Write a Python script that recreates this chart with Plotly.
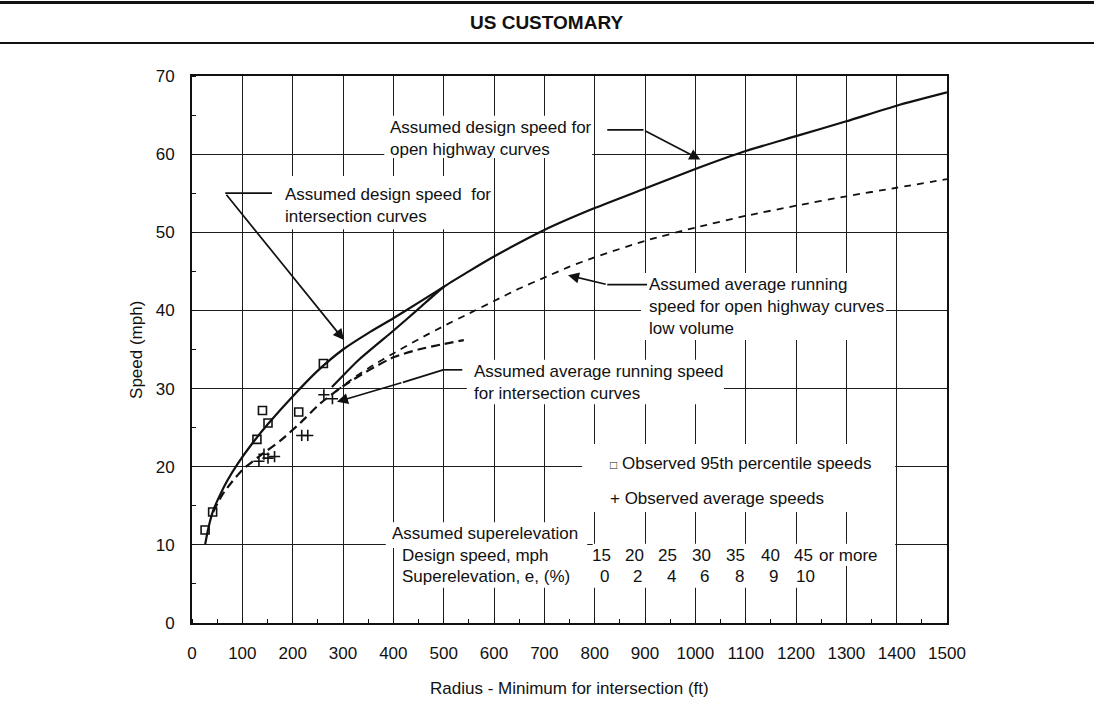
import plotly.graph_objects as go

# ---- curves (radius in ft, speed in mph) ----
int_design_r = [26, 32, 41, 55, 70, 90, 120, 150, 200, 250, 300, 350, 400, 450, 500]
int_design_v = [10.0, 12.0, 14.2, 16.3, 18.2, 20.3, 23.0, 25.4, 29.0, 32.3, 35.0, 37.1, 39.0, 41.0, 43.0]

open_design_r = [278, 330, 400, 450, 500, 550, 600, 700, 800, 900, 1000, 1100, 1200, 1300, 1400, 1500]
open_design_v = [30.2, 33.6, 37.4, 40.2, 43.0, 45.0, 46.9, 50.3, 53.1, 55.6, 58.1, 60.4, 62.3, 64.2, 66.2, 67.9]

int_avg_r = [42, 60, 80, 100, 135, 175, 215, 255, 300, 350, 400, 450, 500, 540]
int_avg_v = [14.2, 16.4, 18.1, 19.6, 21.4, 23.3, 25.6, 28.1, 30.3, 32.3, 34.0, 35.0, 35.7, 36.2]

open_avg_r = [285, 320, 360, 400, 450, 500, 550, 600, 650, 700, 750, 800, 900, 1000, 1100, 1200, 1300, 1400, 1500]
open_avg_v = [29.6, 31.3, 33.0, 34.5, 36.3, 38.0, 39.6, 41.2, 42.8, 44.2, 45.6, 46.8, 48.9, 50.6, 52.1, 53.4, 54.6, 55.7, 56.8]

# ---- observations ----
p95_r = [26, 41, 129, 140, 151, 212, 261]
p95_v = [11.9, 14.2, 23.5, 27.2, 25.6, 27.0, 33.2]

avg_r = [133, 143, 151, 164, 218, 230, 262, 279]
avg_v = [20.7, 21.6, 21.1, 21.3, 24.0, 24.0, 29.2, 28.7]

# ---- superelevation table ----
design_speeds = ["15", "20", "25", "30", "35", "40", "45"]
superelev = ["0", "2", "4", "6", "8", "9", "10"]
speed_cols = [814, 880, 945, 1013, 1079, 1149, 1214]
elev_cols = [820, 886, 953, 1019, 1087, 1155, 1218]

x_ticks = list(range(0, 1501, 100))
y_ticks = list(range(0, 71, 10))

FONT = "Liberation Sans, Arial, Helvetica, sans-serif"
INK = "#111111"

fig = go.Figure()

fig.add_trace(go.Scatter(x=int_design_r, y=int_design_v, mode="lines",
                         line=dict(color=INK, width=2.2, shape="spline", smoothing=0.6)))
fig.add_trace(go.Scatter(x=open_design_r, y=open_design_v, mode="lines",
                         line=dict(color=INK, width=2.2, shape="spline", smoothing=0.6)))
fig.add_trace(go.Scatter(x=int_avg_r, y=int_avg_v, mode="lines",
                         line=dict(color=INK, width=2.2, dash="9px,5px", shape="spline", smoothing=0.6)))
fig.add_trace(go.Scatter(x=open_avg_r, y=open_avg_v, mode="lines",
                         line=dict(color=INK, width=1.8, dash="7px,6px", shape="spline", smoothing=0.6)))
fig.add_trace(go.Scatter(x=p95_r, y=p95_v, mode="markers",
                         marker=dict(symbol="square-open", size=8, color=INK, line=dict(width=1.6))))
fig.add_trace(go.Scatter(x=avg_r, y=avg_v, mode="markers",
                         marker=dict(symbol="cross-thin-open", size=8, color=INK, line=dict(width=1.6, color=INK))))

shapes = []

# white panels behind the labels (hide grid lines, stay under the curves)
def panel(x0, x1, y0, y1):
    shapes.append(dict(type="rect", xref="x", yref="y", x0=x0, x1=x1, y0=y0, y1=y1,
                       fillcolor="white", line=dict(width=0), layer="between"))

panel(382, 795, 59.5, 64.9)
panel(168, 596, 50.4, 57.2)
panel(892, 1379, 36.2, 44.8)
panel(546, 1057, 28.0, 33.7)
panel(775, 1397, 14.2, 22.9)
panel(385, 785, 9.6, 12.9)
panel(402, 785, 7.3, 10.1)
panel(796, 1397, 7.3, 10.15)
panel(402, 1244, 4.5, 7.3)

# leader lines
def seg(x0, y0, x1, y1):
    shapes.append(dict(type="line", xref="x", yref="y", x0=x0, y0=y0, x1=x1, y1=y1,
                       line=dict(color=INK, width=1.7), layer="above"))

seg(825, 63.1, 897, 63.1)
seg(159, 55.0, 66, 55.0)
seg(904, 43.3, 825, 43.3)
seg(537, 32.4, 499, 32.4)
seg(499, 32.4, 419, 30.8)

# header rules
shapes.append(dict(type="line", xref="paper", yref="paper", x0=-0.26, x1=1.2, y0=1.1345, y1=1.1345,
                   line=dict(color=INK, width=3)))
shapes.append(dict(type="line", xref="paper", yref="paper", x0=-0.26, x1=1.2, y0=1.0603, y1=1.0603,
                   line=dict(color=INK, width=2)))

annotations = []

def arrow(x, y, ax, ay):
    annotations.append(dict(x=x, y=y, ax=ax, ay=ay, xref="x", yref="y", axref="x", ayref="y",
                            text="", showarrow=True, arrowhead=2, arrowsize=1.3,
                            arrowwidth=1.7, arrowcolor=INK))

arrow(1010, 59.3, 897, 63.1)
arrow(302, 36.2, 66, 55.0)
arrow(747, 44.5, 825, 43.3)
arrow(288, 28.3, 419, 30.8)

def label(x, y, text, size=17, xanchor="left", bold=False):
    annotations.append(dict(x=x, y=y, xref="x", yref="y", text=("<b>%s</b>" % text) if bold else text,
                            showarrow=False, xanchor=xanchor, yanchor="middle", align="left",
                            font=dict(family=FONT, size=size, color=INK)))

label(389, 62.0, "Assumed design speed for<br>open highway curves")
label(180, 53.4, "Assumed design speed  for<br>intersection curves")
label(904, 40.5, "Assumed average running<br>speed for open highway curves<br>low volume")
label(556, 30.8, "Assumed average running speed<br>for intersection curves")
label(826, 20.4, "<span style='font-size:12px'>□</span> Observed 95th percentile speeds")
label(826, 15.9, "+ Observed average speeds")
label(393, 11.5, "Assumed superelevation")
label(413, 8.7, "Design speed, mph")
label(413, 5.9, "Superelevation, e, (%)")
for xs, s in zip(speed_cols, design_speeds):
    label(xs, 8.7, s, xanchor="center")
for xs, s in zip(elev_cols, superelev):
    label(xs, 5.9, s, xanchor="center")
label(1241, 8.7, "or more")

# header and axis titles
annotations.append(dict(x=0.4698, y=1.0987, xref="paper", yref="paper", text="<b>US CUSTOMARY</b>",
                        showarrow=False, xanchor="center", yanchor="middle",
                        font=dict(family=FONT, size=19, color=INK)))
annotations.append(dict(x=0.5003, y=-0.119, xref="paper", yref="paper",
                        text="Radius - Minimum for intersection (ft)",
                        showarrow=False, xanchor="center", yanchor="middle",
                        font=dict(family=FONT, size=17, color=INK)))
annotations.append(dict(x=-0.0736, y=0.5, xref="paper", yref="paper", text="Speed (mph)",
                        textangle=-90, showarrow=False, xanchor="center", yanchor="middle",
                        font=dict(family=FONT, size=17, color=INK)))

fig.update_layout(
    width=1094, height=702,
    margin=dict(l=192, r=147, t=76, b=79),
    paper_bgcolor="white", plot_bgcolor="white",
    showlegend=False,
    shapes=shapes, annotations=annotations,
    font=dict(family=FONT, size=17, color=INK),
)
fig.update_xaxes(range=[0, 1500], tickvals=x_ticks, ticktext=[str(v) for v in x_ticks],
                 showgrid=True, gridcolor="#1c1c1c", gridwidth=1.4, zeroline=False,
                 showline=True, linecolor=INK, linewidth=2, mirror=True, ticks="",
                 ticklabelstandoff=14, tickfont=dict(size=17),
                 minor=dict(dtick=50, ticks="inside", ticklen=4, tickcolor=INK, tickwidth=1.2, showgrid=False))
fig.update_yaxes(range=[0, 70], tickvals=y_ticks, ticktext=[str(v) for v in y_ticks],
                 showgrid=True, gridcolor="#1c1c1c", gridwidth=1.4, zeroline=False,
                 showline=True, linecolor=INK, linewidth=2, mirror=True, ticks="",
                 ticklabelstandoff=12, tickfont=dict(size=17),
                 minor=dict(dtick=5, ticks="inside", ticklen=4, tickcolor=INK, tickwidth=1.2, showgrid=False))

fig.write_html("out.html")
